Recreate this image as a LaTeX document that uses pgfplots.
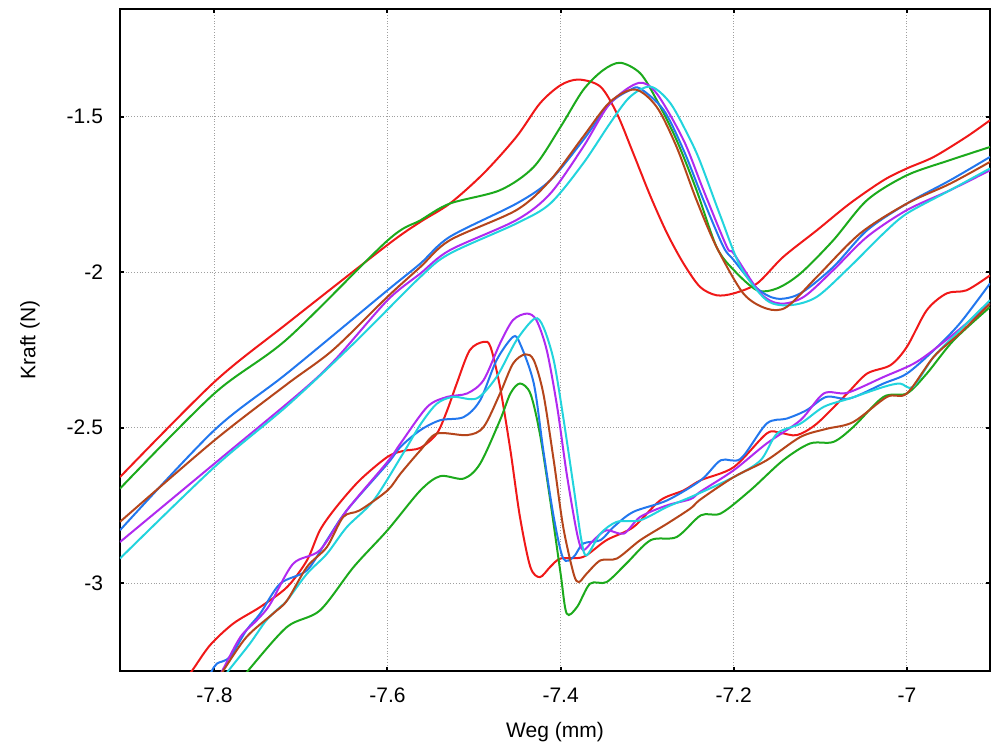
\documentclass[border=0pt]{standalone}
\usepackage{fontspec}
\setmainfont{Liberation Sans}
\usepackage{pgfplots}
\pgfplotsset{compat=1.18}
\definecolor{cred}{HTML}{F01818}
\definecolor{cgreen}{HTML}{1CAA1C}
\definecolor{cblue}{HTML}{2277EE}
\definecolor{cmag}{HTML}{B02AF0}
\definecolor{ccyan}{HTML}{22D4DD}
\definecolor{cbrown}{HTML}{B5451B}

\begin{document}
\begin{tikzpicture}
\useasboundingbox (-60pt,-37pt) rectangle (435.5pt,335.5pt);
\begin{axis}[
  scale only axis,
  width=435pt, height=331pt,
  xmin=-7.909, xmax=-6.904,
  ymin=-3.283, ymax=-1.153,
  xtick={-7.8,-7.6,-7.4,-7.2,-7},
  ytick={-3,-2.5,-2,-1.5},
  font=\fontsize{10.5}{12}\selectfont,
  /pgf/number format/assume math mode=true,
  xticklabel shift=5pt,
  yticklabel shift=5pt,
  grid=major,
  grid style={densely dotted, gray!75, line width=0.5pt},
  axis line style={line width=1pt},
  major tick length=2.2pt,
  every tick/.style={black, line width=1pt},
  xlabel={Weg (mm)},
  ylabel={Kraft (N)},
  xlabel style={at={(axis description cs:0.5,-0.0997)}, anchor=base},
  ylabel style={at={(axis description cs:-0.1034,0.5)}, anchor=center},
  every axis plot/.append style={line width=1pt, smooth, tension=0.5, no marks},
]
% upper branches
\addplot[cred] coordinates {(-7.909,-2.659)(-7.8,-2.353)(-7.716,-2.165)(-7.6,-1.912)(-7.562,-1.838)(-7.528,-1.779)(-7.489,-1.682)(-7.451,-1.564)(-7.424,-1.457)(-7.400,-1.398)(-7.379,-1.380)(-7.354,-1.403)(-7.335,-1.489)(-7.316,-1.618)(-7.296,-1.757)(-7.277,-1.875)(-7.258,-1.972)(-7.239,-2.047)(-7.220,-2.074)(-7.200,-2.068)(-7.173,-2.036)(-7.143,-1.951)(-7.104,-1.865)(-7.066,-1.779)(-7.027,-1.704)(-7.0,-1.666)(-6.969,-1.629)(-6.931,-1.564)(-6.904,-1.511)};
\addplot[cgreen] coordinates {(-7.909,-2.696)(-7.8,-2.390)(-7.716,-2.215)(-7.6,-1.898)(-7.562,-1.833)(-7.528,-1.779)(-7.470,-1.736)(-7.431,-1.661)(-7.400,-1.532)(-7.374,-1.414)(-7.351,-1.350)(-7.331,-1.326)(-7.308,-1.360)(-7.289,-1.446)(-7.266,-1.575)(-7.243,-1.736)(-7.220,-1.918)(-7.2,-1.993)(-7.173,-2.058)(-7.150,-2.052)(-7.123,-2.004)(-7.085,-1.897)(-7.046,-1.768)(-7.0,-1.688)(-6.950,-1.639)(-6.904,-1.597)};
\addplot[cblue] coordinates {(-7.909,-2.830)(-7.8,-2.508)(-7.716,-2.325)(-7.6,-2.058)(-7.562,-1.972)(-7.528,-1.886)(-7.451,-1.779)(-7.412,-1.704)(-7.374,-1.575)(-7.343,-1.457)(-7.320,-1.414)(-7.308,-1.409)(-7.281,-1.478)(-7.258,-1.607)(-7.235,-1.768)(-7.212,-1.918)(-7.2,-1.961)(-7.173,-2.052)(-7.150,-2.085)(-7.123,-2.068)(-7.085,-1.983)(-7.046,-1.865)(-7.0,-1.779)(-6.950,-1.704)(-6.904,-1.629)};
\addplot[cmag] coordinates {(-7.909,-2.868)(-7.8,-2.616)(-7.7,-2.385)(-7.66,-2.280)(-7.6,-2.090)(-7.562,-2.004)(-7.528,-1.929)(-7.451,-1.832)(-7.412,-1.747)(-7.374,-1.597)(-7.343,-1.457)(-7.310,-1.391)(-7.289,-1.425)(-7.258,-1.575)(-7.235,-1.736)(-7.208,-1.918)(-7.2,-1.940)(-7.169,-2.068)(-7.146,-2.101)(-7.119,-2.079)(-7.085,-1.993)(-7.046,-1.886)(-7.0,-1.800)(-6.950,-1.736)(-6.904,-1.672)};
\addplot[ccyan] coordinates {(-7.909,-2.921)(-7.8,-2.627)(-7.716,-2.430)(-7.639,-2.229)(-7.562,-2.015)(-7.528,-1.940)(-7.451,-1.843)(-7.412,-1.779)(-7.374,-1.650)(-7.343,-1.521)(-7.320,-1.436)(-7.296,-1.403)(-7.273,-1.457)(-7.250,-1.575)(-7.238,-1.650)(-7.215,-1.822)(-7.192,-1.983)(-7.162,-2.090)(-7.135,-2.106)(-7.104,-2.079)(-7.066,-1.983)(-7.027,-1.875)(-7.0,-1.811)(-6.950,-1.736)(-6.904,-1.666)};
\addplot[cbrown] coordinates {(-7.909,-2.803)(-7.8,-2.541)(-7.716,-2.360)(-7.663,-2.250)(-7.6,-2.079)(-7.562,-1.983)(-7.528,-1.897)(-7.451,-1.800)(-7.412,-1.704)(-7.374,-1.564)(-7.343,-1.452)(-7.314,-1.412)(-7.289,-1.468)(-7.266,-1.597)(-7.243,-1.768)(-7.220,-1.918)(-7.189,-2.068)(-7.162,-2.117)(-7.139,-2.112)(-7.104,-2.015)(-7.054,-1.875)(-7.0,-1.779)(-6.950,-1.715)(-6.904,-1.645)};
% lower branches
\addplot[cred] coordinates {(-7.832,-3.30)(-7.826,-3.283)(-7.805,-3.200)(-7.778,-3.130)(-7.747,-3.077)(-7.716,-3.013)(-7.693,-2.927)(-7.678,-2.830)(-7.659,-2.755)(-7.632,-2.669)(-7.6,-2.594)(-7.582,-2.575)(-7.562,-2.565)(-7.543,-2.519)(-7.531,-2.444)(-7.520,-2.358)(-7.505,-2.251)(-7.489,-2.224)(-7.481,-2.240)(-7.470,-2.369)(-7.458,-2.573)(-7.447,-2.787)(-7.435,-2.948)(-7.424,-2.981)(-7.412,-2.948)(-7.400,-2.921)(-7.374,-2.916)(-7.347,-2.862)(-7.316,-2.820)(-7.285,-2.734)(-7.258,-2.702)(-7.238,-2.669)(-7.2,-2.627)(-7.162,-2.519)(-7.146,-2.517)(-7.127,-2.524)(-7.104,-2.487)(-7.069,-2.390)(-7.046,-2.326)(-7.019,-2.299)(-7.0,-2.240)(-6.977,-2.122)(-6.954,-2.068)(-6.931,-2.058)(-6.904,-2.010)};
\addplot[cgreen] coordinates {(-7.765,-3.30)(-7.759,-3.275)(-7.716,-3.141)(-7.678,-3.088)(-7.639,-2.948)(-7.6,-2.830)(-7.562,-2.702)(-7.539,-2.656)(-7.512,-2.664)(-7.493,-2.616)(-7.470,-2.476)(-7.458,-2.390)(-7.447,-2.358)(-7.435,-2.390)(-7.424,-2.519)(-7.412,-2.734)(-7.400,-2.970)(-7.393,-3.098)(-7.381,-3.077)(-7.366,-3.002)(-7.347,-2.997)(-7.324,-2.937)(-7.296,-2.862)(-7.266,-2.852)(-7.238,-2.782)(-7.215,-2.776)(-7.181,-2.702)(-7.143,-2.605)(-7.112,-2.551)(-7.085,-2.546)(-7.062,-2.498)(-7.027,-2.401)(-7.0,-2.390)(-6.977,-2.326)(-6.946,-2.219)(-6.904,-2.112)};
\addplot[cblue] coordinates {(-7.806,-3.30)(-7.803,-3.283)(-7.797,-3.259)(-7.782,-3.238)(-7.763,-3.152)(-7.747,-3.098)(-7.724,-3.002)(-7.693,-2.959)(-7.670,-2.862)(-7.647,-2.766)(-7.6,-2.616)(-7.585,-2.562)(-7.562,-2.508)(-7.539,-2.476)(-7.512,-2.466)(-7.493,-2.412)(-7.474,-2.283)(-7.455,-2.208)(-7.447,-2.229)(-7.431,-2.358)(-7.420,-2.573)(-7.408,-2.787)(-7.397,-2.921)(-7.385,-2.916)(-7.374,-2.873)(-7.354,-2.862)(-7.339,-2.820)(-7.316,-2.771)(-7.277,-2.734)(-7.238,-2.669)(-7.215,-2.605)(-7.192,-2.600)(-7.162,-2.487)(-7.139,-2.471)(-7.116,-2.444)(-7.093,-2.401)(-7.066,-2.406)(-7.027,-2.358)(-7.0,-2.326)(-6.969,-2.251)(-6.939,-2.165)(-6.904,-2.036)};
\addplot[cmag] coordinates {(-7.795,-3.30)(-7.791,-3.283)(-7.770,-3.174)(-7.751,-3.120)(-7.736,-3.070)(-7.709,-2.938)(-7.678,-2.894)(-7.647,-2.766)(-7.6,-2.610)(-7.585,-2.551)(-7.554,-2.433)(-7.531,-2.401)(-7.508,-2.390)(-7.489,-2.347)(-7.470,-2.229)(-7.455,-2.154)(-7.439,-2.133)(-7.428,-2.154)(-7.416,-2.251)(-7.404,-2.433)(-7.393,-2.648)(-7.381,-2.841)(-7.374,-2.894)(-7.362,-2.862)(-7.347,-2.830)(-7.327,-2.841)(-7.308,-2.787)(-7.277,-2.750)(-7.250,-2.730)(-7.238,-2.705)(-7.2,-2.637)(-7.162,-2.551)(-7.123,-2.476)(-7.096,-2.390)(-7.069,-2.388)(-7.027,-2.337)(-6.989,-2.289)(-6.950,-2.208)(-6.904,-2.101)};
\addplot[ccyan] coordinates {(-7.788,-3.30)(-7.784,-3.283)(-7.759,-3.195)(-7.740,-3.120)(-7.724,-3.077)(-7.716,-3.056)(-7.693,-2.970)(-7.670,-2.906)(-7.647,-2.820)(-7.616,-2.734)(-7.582,-2.583)(-7.562,-2.490)(-7.543,-2.423)(-7.524,-2.401)(-7.497,-2.406)(-7.474,-2.337)(-7.451,-2.219)(-7.430,-2.149)(-7.420,-2.176)(-7.408,-2.283)(-7.397,-2.466)(-7.385,-2.691)(-7.376,-2.862)(-7.370,-2.911)(-7.354,-2.841)(-7.335,-2.803)(-7.308,-2.798)(-7.277,-2.755)(-7.247,-2.720)(-7.2,-2.659)(-7.169,-2.605)(-7.150,-2.519)(-7.123,-2.487)(-7.096,-2.433)(-7.066,-2.406)(-7.027,-2.369)(-7.008,-2.358)(-6.993,-2.369)(-6.969,-2.272)(-6.939,-2.187)(-6.904,-2.090)};
\addplot[cbrown] coordinates {(-7.794,-3.30)(-7.790,-3.283)(-7.763,-3.174)(-7.732,-3.098)(-7.716,-3.056)(-7.693,-2.948)(-7.670,-2.884)(-7.651,-2.787)(-7.632,-2.766)(-7.6,-2.702)(-7.585,-2.648)(-7.562,-2.573)(-7.543,-2.519)(-7.508,-2.524)(-7.489,-2.498)(-7.470,-2.390)(-7.455,-2.294)(-7.441,-2.264)(-7.431,-2.283)(-7.420,-2.390)(-7.408,-2.605)(-7.397,-2.820)(-7.385,-2.970)(-7.379,-2.997)(-7.370,-2.970)(-7.354,-2.927)(-7.335,-2.921)(-7.308,-2.862)(-7.277,-2.809)(-7.250,-2.760)(-7.238,-2.730)(-7.2,-2.659)(-7.162,-2.605)(-7.123,-2.530)(-7.093,-2.504)(-7.062,-2.482)(-7.023,-2.401)(-7.0,-2.390)(-6.969,-2.272)(-6.939,-2.197)(-6.904,-2.101)};
\end{axis}
\end{tikzpicture}
\end{document}
